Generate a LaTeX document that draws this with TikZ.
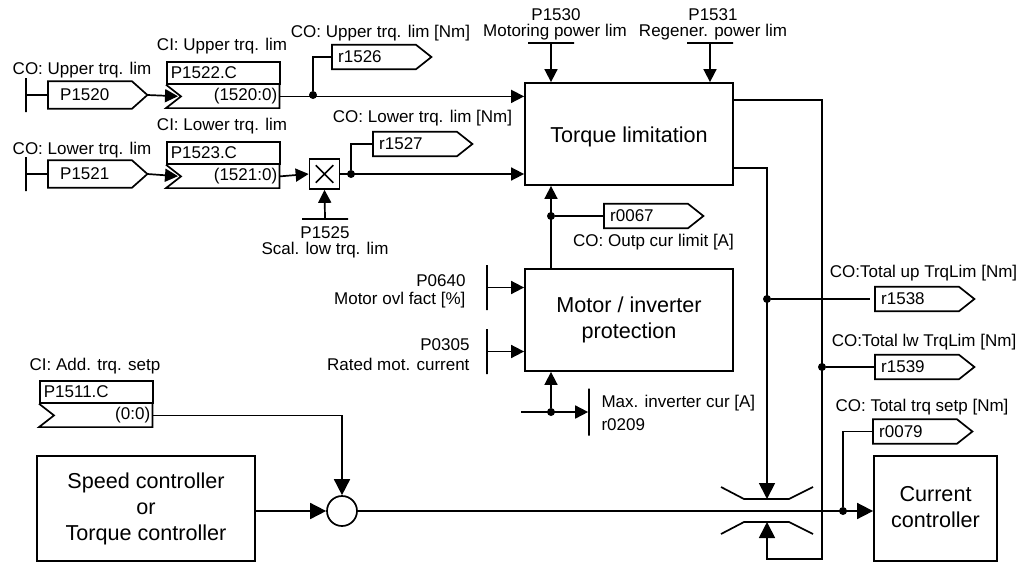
\documentclass[tikz,border=0pt]{standalone}
\usepackage{fontspec}
\usepackage{tikz}
\usetikzlibrary{arrows.meta,shapes.misc}
\setmainfont{Liberation Sans}

\tikzset{
    every node/.style={font=\fontsize{17}{20}\selectfont},
    lbl/.style={yshift=-1.5pt},
    wire/.style={line width=1.7pt},
    arrowwire/.style={wire, -{Triangle[length=13pt,width=13pt]}},
    bigarrow/.style={wire, -{Triangle[length=16pt,width=16pt]}},
    dot/.style={circle, fill=black, inner sep=0pt, minimum size=8pt},
    block/.style={draw, line width=1.8pt, inner sep=0pt, align=center, font=\fontsize{21.6}{26}\selectfont},
    vbar/.style={draw, line width=1.7pt, inner sep=0pt, minimum width=0pt, minimum height=#1},
    hbar/.style={draw, line width=1.7pt, inner sep=0pt, minimum height=0pt, minimum width=#1},
    tagtext/.style={inner sep=0pt, inner xsep=6pt, text width=#1},
    cihead/.style={draw, line width=1.7pt, inner sep=0pt, inner xsep=4pt, text width=105pt, minimum height=22pt, align=left},
    civalue/.style={inner sep=0pt, inner xsep=2pt, text width=109pt, minimum height=23pt, align=right}
}

% output tag: name, left edge, mid y, text
\newcommand{\tagout}[5][24]{%
    \node[tagtext=87pt, minimum height=#1pt, anchor=west] (#2) at (#3,#4) {#5};
    \draw[wire] (#2.north west) -- ([xshift=84pt]#2.north west) -- (#2.east)
        -- ([xshift=84pt]#2.south west) -- (#2.south west) -- cycle;
}
% setpoint box with notch: name, left edge, top, head, value
\newcommand{\cibox}[5]{%
    \node[cihead, anchor=north west] (#1head) at (#2,#3) {#4};
    \node[civalue, anchor=north west] (#1) at (#1head.south west) {#5};
    \coordinate (#1in) at ([xshift=15pt]#1.west);
    \draw[wire] (#1.north west) -- (#1in) -- (#1.south west) -- (#1.south east) -- (#1.north east);
}

\begin{document}
\begin{tikzpicture}[x=1pt, y=-1pt]
    \useasboundingbox (0,0) rectangle (1032,562);

    % Main blocks
    \node[block, minimum width=208pt, minimum height=102pt, text height=21pt, text depth=4pt] (torqueBox) at (629,134) {Torque limitation};
    \node[block, minimum width=208pt, minimum height=102pt] (motorBox) at (629,320) {Motor / inverter\\protection};
    \node[block, minimum width=218pt, minimum height=105pt] (speedBox) at (146,508.5) {Speed controller\\or\\Torque controller};
    \node[block, minimum width=123pt, minimum height=105pt] (currentBox) at (935.5,508.5) {Current\\controller\rule[-4pt]{0pt}{1pt}};

    % Upper limit input
    \node[lbl] at (82,69) (lblUpperCo) {CO: Upper trq. lim};
    \node[vbar=34pt] (barUpper) at (26,95) {};
    \tagout[27]{P1520}{48}{95}{\hspace*{6pt}P1520}
    \node[lbl] at (222,45) (lblUpperCi) {CI: Upper trq. lim};
    \cibox{P1522}{166}{61}{P1522.C}{(1520:0)}
    \draw[wire] (barUpper.east) -- (P1520.west);
    \draw[arrowwire, shorten >=3pt] (P1520.east) -- (P1522in);

    % Lower limit input
    \node[lbl] at (82,149) (lblLowerCo) {CO: Lower trq. lim};
    \node[vbar=34pt] (barLower) at (26,174) {};
    \tagout[27]{P1521}{48}{174}{\hspace*{6pt}P1521}
    \node[lbl] at (222,125) (lblLowerCi) {CI: Lower trq. lim};
    \cibox{P1523}{166}{141}{P1523.C}{(1521:0)}
    \draw[wire] (barLower.east) -- (P1521.west);
    \draw[arrowwire, shorten >=3pt] (P1521.east) -- (P1523in);

    % Scaling of lower limit
    \node[draw, line width=1.7pt, inner sep=0pt, minimum size=30pt] (multBox) at (324.5,174) {};
    \node[cross out, draw, line width=1.5pt, inner sep=0pt, minimum size=16pt] (multSign) at (multBox.center) {};
    \node[hbar=46pt] (barScal) at (325,219) {};
    \node[lbl] at (325,231) (lblScalNum) {P1525};
    \node[lbl] at (325,249) (lblScalText) {Scal. low trq. lim};
    \draw[arrowwire] (P1523.east) -- (multBox.west);
    \draw[arrowwire] (barScal.north) -- (multBox.south);

    % Torque inputs and their tags
    \node[dot] (dotUpper) at (313,95) {};
    \node[dot] (dotLower) at (351,174) {};
    \draw[arrowwire] (P1522.east) -- (P1522.east -| torqueBox.west);
    \draw[arrowwire] (multBox.east) -- (multBox.east -| torqueBox.west);
    \node[lbl] at (380.5,32) (lblR1526) {CO: Upper trq. lim [Nm]};
    \tagout{r1526}{332}{57}{r1526}
    \node[lbl] at (422.5,117) (lblR1527) {CO: Lower trq. lim [Nm]};
    \tagout{r1527}{373}{144}{r1527}
    \draw[wire] (dotUpper) |- (r1526.west);
    \draw[wire] (dotLower) |- (r1527.west);

    % Power limits
    \node[lbl] at (556,13) (lblP1530Num) {P1530};
    \node[lbl] at (555,31) (lblP1530Text) {Motoring power lim};
    \node[lbl] at (713,13) (lblP1531Num) {P1531};
    \node[lbl] at (713,31) (lblP1531Text) {Regener. power lim};
    \node[hbar=46pt] (barMotoring) at (551,43) {};
    \node[hbar=46pt] (barRegen) at (710,43) {};
    \draw[arrowwire] (barMotoring.south) -- (barMotoring.south |- torqueBox.north);
    \draw[arrowwire] (barRegen.south) -- (barRegen.south |- torqueBox.north);

    % Current limit
    \node[dot] (dotCur) at (551,216) {};
    \tagout{r0067}{604}{216}{r0067}
    \node[lbl] at (653.5,241) (lblR0067) {CO: Outp cur limit [A]};
    \draw[wire] (dotCur) -- (r0067.west);
    \draw[arrowwire] (dotCur |- motorBox.north) -- (dotCur |- torqueBox.south);

    % Motor / inverter inputs
    \node[lbl, anchor=east] at (469,279) (lblP0640Num) {P0640};
    \node[lbl, anchor=east] at (469,299) (lblP0640Text) {Motor ovl fact [\%]};
    \node[lbl, anchor=east] at (473,343) (lblP0305Num) {P0305};
    \node[lbl, anchor=east] at (473,363) (lblP0305Text) {Rated mot. current};
    \node[vbar=45pt] (barOvl) at (487,287.5) {};
    \node[vbar=45pt] (barRated) at (487,351.5) {};
    \draw[arrowwire] (barOvl.east) -- (barOvl.east -| motorBox.west);
    \draw[arrowwire] (barRated.east) -- (barRated.east -| motorBox.west);

    % Maximum inverter current
    \coordinate (maxStart) at (521,412);
    \node[dot] (dotMax) at (551,412) {};
    \node[vbar=47pt] (barMax) at (589,412) {};
    \node[lbl, anchor=west] at (598,402) (lblMaxText) {Max. inverter cur [A]};
    \node[lbl, anchor=west] at (598,423) (lblMaxNum) {r0209};
    \draw[arrowwire] (maxStart) -- (barMax.west);
    \draw[arrowwire] (dotMax) -- (dotMax |- motorBox.south);

    % Additional setpoint and summing point
    \node[lbl] at (95,365) (lblAdd) {CI: Add. trq. setp};
    \cibox{P1511}{39}{380}{P1511.C}{(0:0)}
    \node[draw, circle, line width=1.7pt, inner sep=0pt, minimum size=30pt] (sumNode) at (342,511) {};
    \draw[bigarrow] (P1511.east) -| (sumNode.north);
    \draw[bigarrow] (speedBox.east |- sumNode) -- (sumNode.west);

    % Limiter
    \coordinate (limitTop) at (767,499);
    \coordinate (limitBot) at (767,522);
    \draw[wire] (721,487) -- (744,499) -- (789,499) -- (813,487);
    \draw[wire] (721,534) -- (744,522) -- (789,522) -- (813,534);

    % Main line to current controller
    \node[dot] (dotSet) at (843,511) {};
    \draw[bigarrow] (sumNode.east) -- (sumNode.east -| currentBox.west);
    \node[lbl] at (922,406) (lblR0079) {CO: Total trq setp [Nm]};
    \tagout{r0079}{873}{431.5}{r0079}
    \draw[wire] (dotSet) |- (r0079.west);

    % Limit lines from torque block
    \coordinate (outUp) at (733,100);
    \coordinate (trunkTop) at (822,100);
    \coordinate (trunkFoot) at (822,559);
    \coordinate (turnFoot) at (767,559);
    \coordinate (outLow) at (733,168);
    \draw[bigarrow] (outUp) -- (trunkTop) -- (trunkFoot) -- (turnFoot) -- (limitBot);
    \draw[bigarrow] (outLow) -| (limitTop);

    % Total limit tags
    \node[dot] (dotUpTotal) at (767,299) {};
    \node[dot] (dotLwTotal) at (822,367) {};
    \node[lbl] at (923.5,272) (lblR1538) {CO:Total up TrqLim [Nm]};
    \tagout{r1538}{875}{299}{r1538}
    \node[lbl] at (924,341) (lblR1539) {CO:Total lw TrqLim [Nm]};
    \tagout{r1539}{875}{367}{r1539}
    \draw[wire, shorten >=5pt] (dotUpTotal) -- (r1538.west);
    \draw[wire] (dotLwTotal) -- (r1539.west);
\end{tikzpicture}
\end{document}
